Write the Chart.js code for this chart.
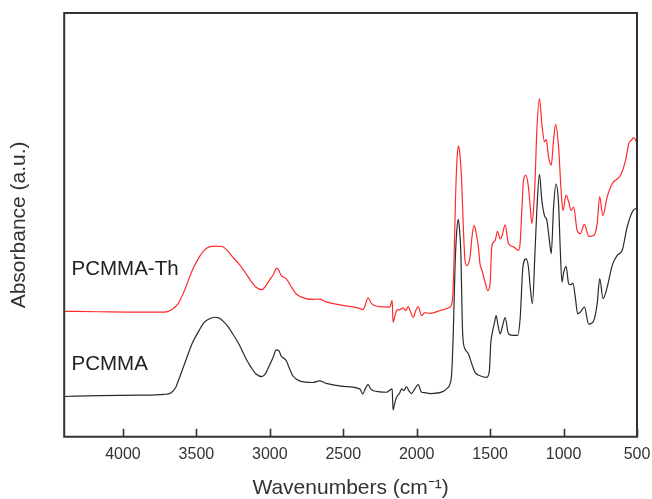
<!DOCTYPE html>
<html>
<head>
<meta charset="utf-8">
<title>FTIR spectra</title>
<script src="https://cdn.jsdelivr.net/npm/chart.js@4/dist/chart.umd.min.js"></script>
<style>
  html, body { margin: 0; padding: 0; background: #ffffff; }
  canvas { display: block; }
</style>
</head>
<body>
<canvas id="ftir" width="652" height="499"></canvas>
<script>
// FTIR absorbance spectra of PCMMA and PCMMA-Th (arbitrary units, 0-100 scale)

const xTickValues = [4000, 3500, 3000, 2500, 2000, 1500, 1000, 500];

const seriesNames = ['PCMMA-Th', 'PCMMA'];

// PCMMA-Th spectrum
const thWavenumber = [
  4403, 4164, 3891, 3720, 3672, 3624, 3572, 3529, 3481, 3447,
  3413, 3372, 3324, 3290, 3253, 3208, 3162, 3126, 3094, 3053,
  3030, 3003, 2976, 2953, 2938, 2923, 2889, 2859, 2820, 2752,
  2709, 2661, 2620, 2502, 2388, 2366, 2354, 2331, 2308, 2252,
  2183, 2167, 2161, 2149, 2137, 2115, 2092, 2074, 2058, 2040,
  2024, 2006, 1990, 1967, 1944, 1910, 1819, 1773, 1755, 1746,
  1736, 1726, 1717, 1709, 1694, 1683, 1671, 1659, 1637, 1623,
  1609, 1596, 1580, 1569, 1555, 1534, 1516, 1500, 1489, 1466,
  1450, 1432, 1418, 1398, 1375, 1341, 1307, 1296, 1284, 1273,
  1257, 1239, 1228, 1216, 1205, 1194, 1182, 1164, 1148, 1130,
  1118, 1102, 1084, 1068, 1054, 1034, 1017, 1004, 983, 965,
  949, 931, 908, 886, 858, 829, 795, 771, 754, 733,
  703, 669, 612, 578, 556, 537, 522, 500
];
const thAbsorbance = [
  29.6, 29.5, 29.4, 29.4, 29.9, 31.4, 35.3, 39.2, 42.4, 44.0,
  44.8, 45.0, 44.9, 44.0, 42.4, 40.7, 38.5, 36.6, 35.3, 34.7,
  35.5, 36.9, 38.3, 39.8, 39.2, 38.1, 37.3, 35.7, 33.7, 32.6,
  32.4, 32.5, 31.9, 31.0, 30.3, 30.0, 30.7, 32.8, 31.4, 30.7,
  30.6, 32.2, 27.0, 28.4, 29.8, 30.0, 30.4, 29.8, 30.7, 29.3,
  28.2, 29.8, 30.7, 28.6, 29.3, 29.1, 30.0, 30.6, 32.9, 41.6,
  55.8, 65.2, 68.6, 67.6, 60.5, 49.9, 41.6, 40.4, 42.4, 47.3,
  49.9, 48.2, 44.8, 40.8, 39.2, 36.4, 34.5, 36.2, 44.8, 46.3,
  48.5, 46.7, 47.5, 50.0, 45.6, 44.8, 44.0, 45.6, 53.4, 60.5,
  61.7, 58.9, 54.6, 50.3, 53.4, 60.5, 72.3, 79.8, 73.9, 69.6,
  70.2, 66.0, 64.1, 70.0, 73.7, 68.4, 58.2, 53.4, 57.0, 55.4,
  53.4, 54.2, 48.7, 47.9, 50.1, 47.3, 47.5, 50.3, 56.7, 52.2,
  56.6, 59.7, 61.7, 65.2, 69.2, 70.0, 70.6, 69.3
];

// PCMMA spectrum
const baseWavenumber = [
  4403, 4164, 3891, 3720, 3672, 3640, 3618, 3572, 3529, 3481,
  3447, 3413, 3379, 3344, 3322, 3290, 3253, 3208, 3162, 3126,
  3094, 3053, 3030, 3003, 2976, 2957, 2938, 2923, 2889, 2866,
  2844, 2798, 2707, 2661, 2616, 2502, 2388, 2366, 2351, 2331,
  2313, 2297, 2252, 2206, 2167, 2161, 2149, 2137, 2115, 2103,
  2088, 2070, 2054, 2035, 2013, 1990, 1967, 1944, 1910, 1819,
  1796, 1773, 1762, 1751, 1739, 1728, 1717, 1709, 1700, 1687,
  1671, 1648, 1625, 1603, 1569, 1523, 1505, 1496, 1482, 1470,
  1459, 1446, 1432, 1415, 1398, 1375, 1341, 1313, 1295, 1277,
  1255, 1239, 1228, 1212, 1194, 1182, 1164, 1148, 1130, 1114,
  1098, 1084, 1068, 1052, 1034, 1023, 1011, 999, 983, 965,
  950, 936, 920, 904, 886, 858, 829, 795, 771, 754,
  731, 703, 669, 635, 601, 567, 533, 510, 500
];
const baseAbsorbance = [
  9.5, 9.7, 9.8, 10.0, 10.4, 11.7, 13.7, 18.0, 22.0, 25.1,
  27.0, 27.8, 28.2, 28.0, 27.4, 26.2, 24.3, 21.7, 18.4, 16.3,
  14.8, 14.2, 14.9, 16.8, 18.9, 20.5, 20.3, 19.1, 18.0, 16.1,
  14.4, 13.2, 12.8, 13.2, 12.6, 11.9, 11.3, 10.1, 11.3, 12.3,
  11.3, 10.9, 10.6, 10.5, 11.3, 6.3, 8.0, 9.3, 10.4, 11.3,
  10.9, 11.8, 10.9, 10.2, 11.3, 12.3, 10.5, 10.4, 10.2, 10.7,
  11.3, 12.5, 14.8, 24.3, 40.0, 48.2, 51.3, 49.2, 44.0, 24.3,
  20.7, 19.6, 17.2, 15.2, 14.4, 14.0, 15.6, 21.9, 25.1, 27.0,
  28.6, 26.2, 24.3, 26.2, 28.1, 24.3, 23.9, 23.9, 28.2, 40.0,
  42.0, 40.0, 35.7, 31.4, 44.0, 53.4, 61.9, 55.8, 52.2, 51.1,
  46.8, 43.2, 54.2, 59.6, 55.0, 44.8, 36.5, 38.8, 40.2, 36.1,
  35.9, 36.2, 32.9, 29.0, 29.4, 30.6, 26.6, 27.4, 31.4, 37.3,
  32.6, 35.3, 40.4, 42.8, 44.0, 49.5, 53.0, 53.8, 53.4
];

const toPoints = (xs, ys) => xs.map((x, i) => ({ x: x, y: ys[i] }));

const FONT = "'Liberation Sans', Arial, Helvetica, sans-serif";
const INK = '#333333';

// Plot frame, inward x tick marks and in-plot series names
const framePlugin = {
  id: 'framePlugin',
  afterDraw(chart, args, opts) {
    const { ctx, chartArea: a, scales } = chart;
    const xs = scales.x, ys = scales.y;
    ctx.save();
    ctx.strokeStyle = INK;
    ctx.lineWidth = 2;
    ctx.strokeRect(a.left, a.top, a.right - a.left, a.bottom - a.top);
    ctx.lineWidth = 1.6;
    ctx.beginPath();
    xTickValues.forEach(v => {
      const px = Math.round(xs.getPixelForValue(v)) + 0.5;
      ctx.moveTo(px, a.bottom);
      ctx.lineTo(px, a.bottom - 8);
    });
    ctx.stroke();
    ctx.fillStyle = '#222222';
    ctx.font = '20.5px ' + FONT;
    ctx.textBaseline = 'middle';
    ctx.textAlign = 'left';
    opts.labels.forEach(l => {
      ctx.fillText(l.text, xs.getPixelForValue(l.x), ys.getPixelForValue(l.y));
    });
    ctx.restore();
  }
};

new Chart(document.getElementById('ftir'), {
  type: 'line',
  data: {
    datasets: [
      {
        label: seriesNames[0],
        data: toPoints(thWavenumber, thAbsorbance),
        borderColor: '#ff2a2a',
        borderWidth: 1.2,
        pointRadius: 0,
        cubicInterpolationMode: 'monotone',
        fill: false
      },
      {
        label: seriesNames[1],
        data: toPoints(baseWavenumber, baseAbsorbance),
        borderColor: '#2a2a2a',
        borderWidth: 1.2,
        pointRadius: 0,
        cubicInterpolationMode: 'monotone',
        fill: false
      }
    ]
  },
  options: {
    responsive: false,
    devicePixelRatio: 1,
    animation: false,
    events: [],
    layout: { padding: { top: 13, right: 15, bottom: 0, left: 0 } },
    plugins: {
      legend: { display: false },
      tooltip: { enabled: false },
      framePlugin: {
        labels: [
          { text: seriesNames[0], x: 4350, y: 39.4 },
          { text: seriesNames[1], x: 4350, y: 17.0 }
        ]
      }
    },
    scales: {
      x: {
        type: 'linear',
        reverse: true,
        min: 500,
        max: 4400,
        afterBuildTicks(scale) {
          scale.ticks = xTickValues.map(v => ({ value: v }));
        },
        afterFit(scale) {
          scale.paddingLeft = 0;
          scale.paddingRight = 0;
        },
        grid: { display: false, drawTicks: false },
        border: { display: false },
        ticks: {
          color: INK,
          padding: 8,
          autoSkip: false,
          maxRotation: 0,
          font: { family: FONT, size: 16 },
          callback: v => String(v)
        },
        title: {
          display: true,
          text: 'Wavenumbers (cm\u207B\u00B9)',
          color: INK,
          font: { family: FONT, size: 21, lineHeight: 1.05 },
          padding: { top: 5, bottom: 0 }
        }
      },
      y: {
        type: 'linear',
        min: 0,
        max: 100,
        grid: { display: false, drawTicks: false },
        border: { display: false },
        ticks: { display: false },
        title: {
          display: true,
          text: 'Absorbance (a.u.)',
          color: INK,
          font: { family: FONT, size: 21 },
          padding: { top: 7, bottom: 32 }
        }
      }
    }
  },
  plugins: [framePlugin]
});
</script>
</body>
</html>
